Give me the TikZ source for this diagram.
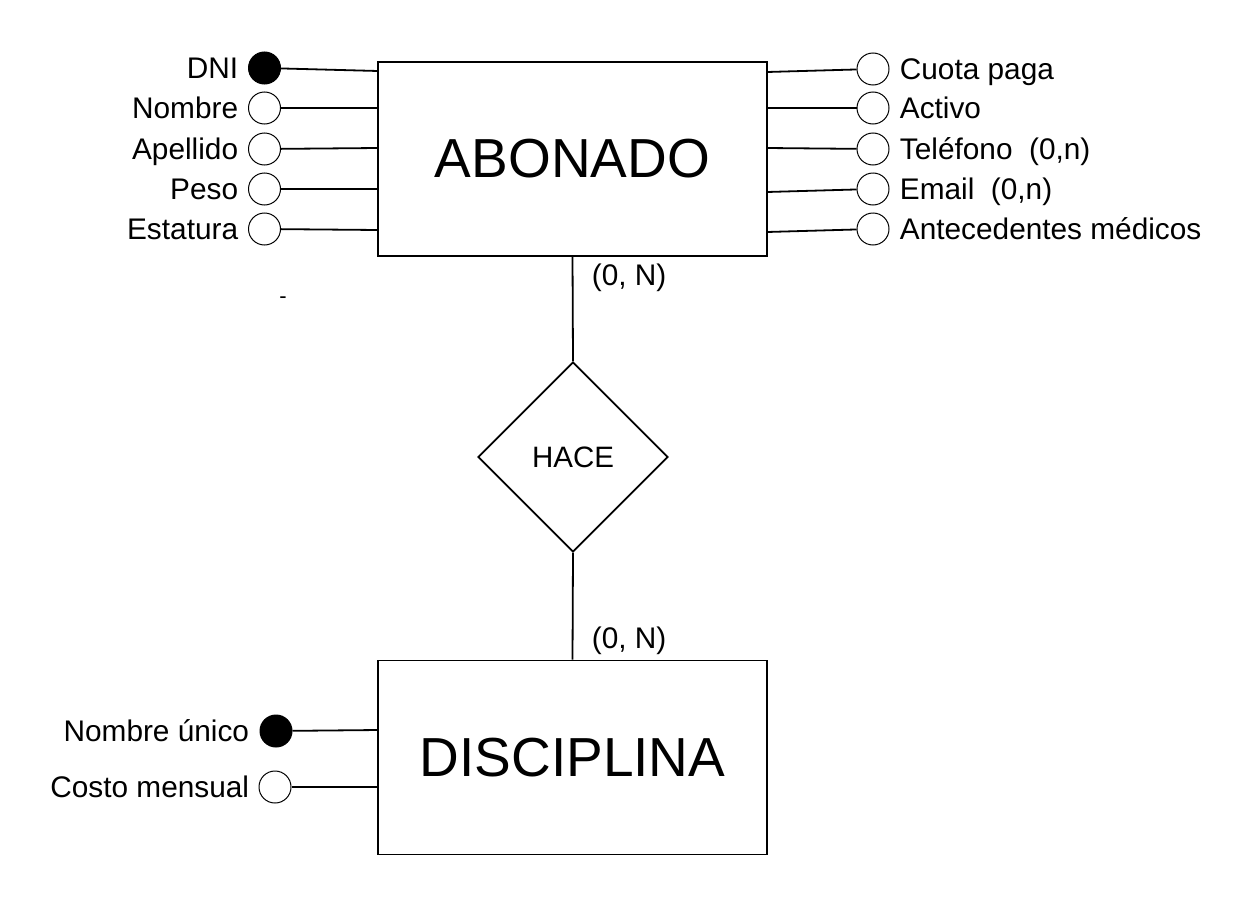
\documentclass[tikz,border=0pt]{standalone}
\usepackage{fontspec}
\setmainfont{Liberation Sans}
\usetikzlibrary{shapes.geometric}
\begin{document}
\begin{tikzpicture}[x=1pt,y=-1pt,line width=1.8pt,
  ent/.style={draw,rectangle,minimum width=389pt,minimum height=194pt,inner sep=0pt,font=\fontsize{55}{60}\selectfont},
  rel/.style={draw,diamond,aspect=1,minimum width=190pt,minimum height=190pt,inner sep=0pt,font=\fontsize{29.5}{34}\selectfont},
  attr/.style={draw,circle,minimum size=32pt,inner sep=0pt,line width=1pt,fill=white},
  key/.style={attr,fill=black},
  lbl/.style={inner sep=0pt,font=\fontsize{29.8}{34}\selectfont},
  lbll/.style={lbl,anchor=base east},
  lblr/.style={lbl,anchor=base west}]
\useasboundingbox (0,0) rectangle (1252,907);
\fill[white] (0,0) rectangle (1252,907);
% entities
\node[ent] (abon) at (572.5,159) {ABONADO};
\node[ent] (disc) at (572.5,757.5) {DISCIPLINA};
\node[rel] (hace) at (573,457) {HACE};
\draw (abon.south) -- (hace.north);
\draw (hace.south) -- (disc.north);
\node[lblr] (c1) at (591,285) {(0, N)};
\node[lblr] (c2) at (591,648) {(0, N)};
% left attributes
\node[key] (dni) at (264.5,68) {};
\node[attr] (nom) at (264.5,108) {};
\node[attr] (ape) at (264.5,149) {};
\node[attr] (pes) at (264.5,189) {};
\node[attr] (est) at (264.5,229) {};
\node[lbll] (tdni) at (239,78) {DNI};
\node[lbll] (tnom) at (239,118) {Nombre};
\node[lbll] (tape) at (239,159) {Apellido};
\node[lbll] (tpes) at (239,199) {Peso};
\node[lbll] (test) at (239,239) {Estatura};
\coordinate (l1) at (378,71);
\coordinate (l2) at (378,108);
\coordinate (l3) at (378,148);
\coordinate (l4) at (378,189);
\coordinate (l5) at (378,230);
\draw (dni) -- (l1);
\draw (nom) -- (l2);
\draw (ape) -- (l3);
\draw (pes) -- (l4);
\draw (est) -- (l5);
% right attributes
\node[attr] (cuo) at (873,69) {};
\node[attr] (act) at (873,108) {};
\node[attr] (tel) at (873,149) {};
\node[attr] (ema) at (873,189) {};
\node[attr] (ant) at (873,229) {};
\node[lblr] (tcuo) at (899,79) {Cuota paga};
\node[lblr] (tact) at (899,118) {Activo};
\node[lblr] (ttel) at (899,159) {Teléfono\ \ (0,n)};
\node[lblr] (tema) at (899,199) {Email\ \ (0,n)};
\node[lblr] (tant) at (899,239) {Antecedentes médicos};
\coordinate (r1) at (767,72);
\coordinate (r2) at (767,108);
\coordinate (r3) at (767,148);
\coordinate (r4) at (767,192);
\coordinate (r5) at (767,232);
\draw (cuo) -- (r1);
\draw (act) -- (r2);
\draw (tel) -- (r3);
\draw (ema) -- (r4);
\draw (ant) -- (r5);
% disciplina attributes
\node[key] (nun) at (276,731) {};
\node[attr] (cme) at (275,787) {};
\node[lbll] (tnun) at (250,741) {Nombre único};
\node[lbll] (tcme) at (250,797) {Costo mensual};
\coordinate (b1) at (378,730);
\coordinate (b2) at (378,787);
\draw (nun) -- (b1);
\draw (cme) -- (b2);
% stray hyphen
\node[lbl,font=\fontsize{22}{24}\selectfont] (dash1) at (283,300) {-};
\end{tikzpicture}
\end{document}
